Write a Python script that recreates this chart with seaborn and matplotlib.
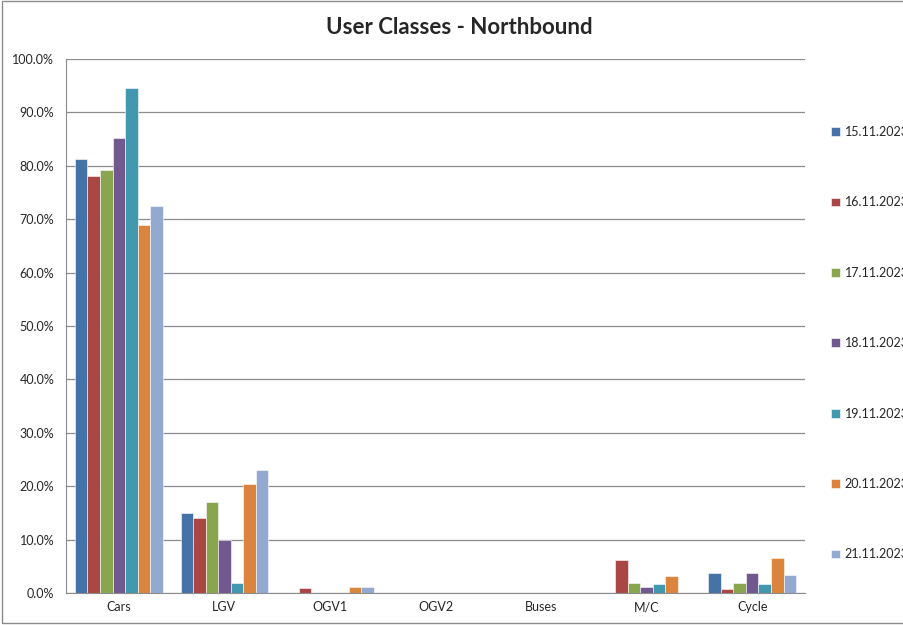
#!/usr/bin/env python3

import pandas as pd
import seaborn as sns
from matplotlib import pyplot as plt
from matplotlib.patches import Rectangle
from matplotlib.ticker import PercentFormatter

categories = ["Cars", "LGV", "OGV1", "OGV2", "Buses", "M/C", "Cycle"]
dates = ["15.11.2023", "16.11.2023", "17.11.2023", "18.11.2023",
         "19.11.2023", "20.11.2023", "21.11.2023"]

# share of traffic (%) per user class, one list per survey day
d15 = [81.3, 15.0, 0.0, 0.0, 0.0, 0.0, 3.7]
d16 = [78.1, 14.1, 0.9, 0.0, 0.0, 6.1, 0.7]
d17 = [79.2, 17.0, 0.0, 0.0, 0.0, 1.8, 1.8]
d18 = [85.2, 9.9, 0.0, 0.0, 0.0, 1.1, 3.7]
d19 = [94.5, 1.8, 0.0, 0.0, 0.0, 1.7, 1.7]
d20 = [68.9, 20.4, 1.1, 0.0, 0.0, 3.2, 6.5]
d21 = [72.5, 23.0, 1.1, 0.0, 0.0, 0.0, 3.3]

colors = ["#4572A7", "#AA4643", "#89A54E", "#71588F", "#4198AF", "#DB843D", "#93A9CF"]

series = [d15, d16, d17, d18, d19, d20, d21]
rows = []
for date, vals in zip(dates, series):
    for cat, v in zip(categories, vals):
        rows.append({"Class": cat, "Date": date, "Share": v})
df = pd.DataFrame(rows)

sns.set_style("white")
plt.rcParams["font.family"] = ["Lato", "DejaVu Sans"]

fig = plt.figure(figsize=(9.04, 6.25), dpi=100)
ax = fig.add_axes([66 / 904, 1 - 593 / 625, (805 - 66) / 904, (593 - 59) / 625])

sns.barplot(
    data=df,
    x="Class",
    y="Share",
    hue="Date",
    order=categories,
    hue_order=dates,
    palette=colors,
    width=0.83,
    saturation=1,
    edgecolor="white",
    linewidth=0.4,
    ax=ax,
)

ax.set_ylim(0, 100)
ax.set_xlim(-0.5, len(categories) - 0.5)
ax.set_yticks(range(0, 101, 10))
ax.yaxis.set_major_formatter(PercentFormatter(decimals=1))
ax.yaxis.grid(True, color="#8c8c8c", linewidth=0.9)
ax.set_axisbelow(True)

# category ticks sit between the groups
ax.set_xticks([i - 0.5 for i in range(len(categories) + 1)], minor=False)
ax.set_xticklabels([])
ax.set_xticks(range(len(categories)), minor=True)
ax.set_xticklabels(categories, minor=True)
ax.tick_params(axis="x", which="minor", length=0, labelsize=9, pad=6)
ax.tick_params(axis="x", which="major", length=5, color="#8c8c8c", direction="out")
ax.tick_params(axis="y", length=5, color="#8c8c8c", direction="out", labelsize=9)

for side in ["top", "right"]:
    ax.spines[side].set_visible(False)
for side in ["left", "bottom"]:
    ax.spines[side].set_color("#8c8c8c")
ax.set_xlabel("")
ax.set_ylabel("")

fig.text(459 / 904, 1 - 28 / 625, "User Classes - Northbound",
         fontsize=16, fontweight="bold", ha="center", va="center")

handles, labels = ax.get_legend_handles_labels()
ax.get_legend().remove()
fig.legend(
    handles,
    labels,
    loc="upper left",
    bbox_to_anchor=(826 / 904, 1 - 121 / 625),
    frameon=False,
    fontsize=9,
    labelspacing=4.67,
    handlelength=0.7,
    handleheight=0.7,
    handletextpad=0.4,
    borderaxespad=0,
)

# outer chart border
fig.patches.append(
    Rectangle((0.002, 0.004), 1.2, 0.995, transform=fig.transFigure,
              fill=False, edgecolor="#8c8c8c", linewidth=1)
)

fig.savefig("out.png", dpi=100)
plt.close()
